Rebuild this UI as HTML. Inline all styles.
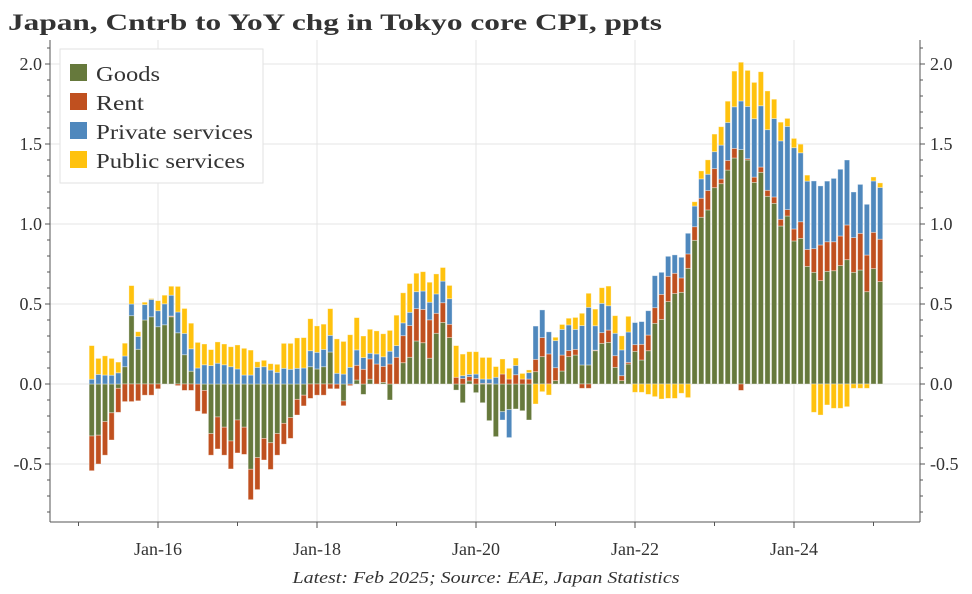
<!DOCTYPE html>
<html><head><meta charset="utf-8"><style>
body{margin:0;background:#fff;}
svg text{font-family:"Liberation Serif","DejaVu Serif",serif;}
</style></head><body>
<svg id="chart" width="972" height="589" viewBox="0 0 972 589" xmlns="http://www.w3.org/2000/svg">
<rect width="972" height="589" fill="#fff"/>
<text x="8" y="30" font-size="23" font-weight="bold" fill="#333" textLength="654" lengthAdjust="spacingAndGlyphs">Japan, Cntrb to YoY chg in Tokyo core CPI, ppts</text>
<g id="grid"></g>
<g id="bars"></g>
<g id="axes"></g>
<g>
<rect x="60" y="49" width="203" height="134" fill="#fff" stroke="#e2e2e2"/>
<rect x="70" y="64" width="17" height="17" fill="#66793c"/>
<text x="96" y="81" font-size="21" fill="#333" textLength="64" lengthAdjust="spacingAndGlyphs">Goods</text>
<rect x="70" y="93" width="17" height="17" fill="#c0501f"/>
<text x="96" y="110" font-size="21" fill="#333" textLength="48" lengthAdjust="spacingAndGlyphs">Rent</text>
<rect x="70" y="122" width="17" height="17" fill="#4f88bd"/>
<text x="96" y="139" font-size="21" fill="#333" textLength="157" lengthAdjust="spacingAndGlyphs">Private services</text>
<rect x="70" y="151" width="17" height="17" fill="#ffc20e"/>
<text x="96" y="168" font-size="21" fill="#333" textLength="149" lengthAdjust="spacingAndGlyphs">Public services</text>
</g>
<text x="486" y="583" font-size="17" font-style="italic" text-anchor="middle" fill="#333" textLength="387" lengthAdjust="spacingAndGlyphs">Latest: Feb 2025; Source: EAE, Japan Statistics</text>
</svg>
<script>
const startYear = 2015, startMonth = 3;
const goods = [-0.325,-0.32,-0.235,-0.18,-0.027,0.108,0.427,0.217,0.40,0.42,0.358,0.37,0.42,0.32,0.183,0.08,0,-0.04,-0.31,-0.206,-0.27,-0.356,-0.225,-0.27,-0.533,-0.46,-0.34,-0.367,-0.31,-0.246,-0.21,-0.096,-0.07,0.108,0.094,0.108,0.2,0,-0.106,0,0.025,-0.065,0.03,0,0.01,-0.1,0,0.133,0.167,0.269,0.258,0.161,0.317,0.385,0.29,-0.038,-0.117,0.019,-0.054,-0.117,-0.229,-0.329,-0.173,-0.16,-0.156,-0.167,-0.225,0.077,0.171,0,0.021,0.081,0.171,0.181,0.119,0.119,0.208,0.254,0.26,0.104,0.021,0.125,0.204,0.15,0.208,0.379,0.404,0.515,0.565,0.573,0.723,0.898,1.042,1.088,1.227,1.252,1.337,1.4125,1.465,1.4,1.26,1.323,1.173,1.129,0.9875,1.05,0.894,0.91,0.735,0.698,0.646,0.704,0.708,0.74,0.777,0.698,0.7125,0.577,0.721,0.64];
const rent = [-0.217,-0.18,-0.21,-0.17,-0.15,-0.11,-0.11,-0.105,-0.07,-0.07,-0.03,0,0.005,-0.01,-0.04,-0.04,-0.17,-0.146,-0.135,-0.2,-0.175,-0.175,-0.206,-0.17,-0.19,-0.2,-0.135,-0.167,-0.135,-0.13,-0.13,-0.098,-0.067,-0.09,-0.07,-0.07,-0.03,-0.03,-0.03,-0.01,0.092,0.092,0.127,0.125,0.1,0.125,0.167,0.169,0.198,0.202,0.208,0.24,0.125,0.123,0.083,0.042,0.035,0.027,0.035,0.004,0.004,0,0.0625,0.031,0.058,0.031,0.031,0.077,0.119,0.188,0.081,0.1,0.038,0.035,-0.027,-0.027,0.004,0.067,0.077,0.073,0.031,0.01,0.042,0.098,0.098,0.098,0.156,0.158,0.127,0.09,0.09,0.085,0.119,0.121,0.119,0.029,0.06,0.06,-0.04,0.008,0.033,0.033,0.0375,0.04,0.042,0.04,0.075,0.104,0.106,0.148,0.223,0.185,0.181,0.185,0.217,0.217,0.229,0.229,0.227,0.265];
const priv = [0.03,0.06,0.056,0.055,0.07,0.067,0.073,0.08,0.096,0.108,0.10,0.131,0.13,0.13,0.133,0.14,0.10,0.12,0.115,0.13,0.12,0.108,0.094,0.056,0.056,0.104,0.108,0.087,0.073,0.098,0.092,0.098,0.1,0.10,0.104,0.108,0.104,0.067,0.062,0.104,0.096,0.073,0.035,0.063,0.06,0.08,0.073,0.08,0.083,0.106,0.115,0.11,0.121,0.135,0.16,0,0.017,0.014,0.027,0.027,0.027,0.042,-0.052,-0.175,0.058,0,0.04,0.208,0.173,0.138,0.169,0.16,0.16,0.125,0.246,0.36,0.152,0.183,0.152,0.14,0.161,0.19,0.138,0.142,0.152,0.2,0.138,0.125,0.115,0.129,0.129,0.129,0.121,0.102,0.106,0.212,0.2375,0.26,0.304,0.327,0.365,0.383,0.379,0.49,0.49,0.52,0.508,0.431,0.427,0.423,0.369,0.379,0.396,0.417,0.406,0.285,0.306,0.317,0.321,0.323];
const pub = [0.21,0.10,0.12,0.105,0.067,0.08,0.115,0.03,0.015,0.006,0.063,0.054,0.056,0.16,0.156,0.16,0.16,0.13,0.10,0.133,0.13,0.125,0.15,0.167,0.156,0.035,0.04,0.04,0.05,0.156,0.162,0.19,0.19,0.20,0.165,0.158,0.167,0.215,0.204,0.204,0.202,0.135,0.15,0.144,0.144,0.13,0.19,0.188,0.18,0.115,0.121,0.125,0.125,0.085,0.083,0.198,0.135,0.142,0.14,0.135,0.135,0.067,0.094,0.067,0.046,0.035,0.017,-0.125,-0.048,-0.069,0.021,0.031,0.042,0.075,0.077,0.088,0.104,0.098,0.123,0.11,0.088,0.098,-0.052,-0.052,-0.065,-0.079,-0.094,-0.09,-0.09,-0.058,-0.085,0.027,0.05,0.09,0.11,0.115,0.133,0.223,0.242,0.225,0.227,0.2125,0.242,0.121,0.117,0.05,0.058,0.054,0.0375,-0.177,-0.194,-0.131,-0.152,-0.152,-0.142,-0.027,-0.027,-0.027,0.025,0.029];
const yTicks = [-0.5,0,0.5,1.0,1.5,2.0];
const yTickLabels = ["-0.5","0.0","0.5","1.0","1.5","2.0"];
const xTickYears = [2016,2018,2020,2022,2024];
const xTickLabels = ["Jan-16","Jan-18","Jan-20","Jan-22","Jan-24"];

const NS="http://www.w3.org/2000/svg";
const L=50,R=920,T=40,B=522;
function y(v){return 384 - v*160;}
function x(monthIndexFromJan2016){return 158 + monthIndexFromJan2016*6.625;}
function xOfBar(i){return x((startYear-2016)*12 + (startMonth-1) + i);}
function mk(tag,attrs,parent){const e=document.createElementNS(NS,tag);for(const k in attrs)e.setAttribute(k,attrs[k]);parent.appendChild(e);return e;}
const grid=document.getElementById('grid'),bars=document.getElementById('bars'),axes=document.getElementById('axes');
yTicks.forEach((v,i)=>{
  const g=mk('line',{x1:L,x2:R,y1:y(v),y2:y(v),stroke:'#e4e4e4','stroke-width':1},grid);
  
  
  const t1=mk('text',{x:42,y:y(v)+6,'font-size':18,'text-anchor':'end',fill:'#333'},axes);t1.textContent=yTickLabels[i];
  
  
  const t2=mk('text',{x:930,y:y(v)+6,'font-size':18,'text-anchor':'start',fill:'#333'},axes);t2.textContent=yTickLabels[i];
  
  
});
for(let k=-8;k<=21;k++){const v=k/10;const len=(k%5===0)?5:3;
  mk('line',{x1:L-len,x2:L,y1:y(v),y2:y(v),stroke:'#555'},axes);
  mk('line',{x1:R,x2:R+len,y1:y(v),y2:y(v),stroke:'#555'},axes);}
xTickYears.forEach((yr,i)=>{
  const xx=x((yr-2016)*12);
  const g=mk('line',{x1:xx,x2:xx,y1:T,y2:B,stroke:'#e4e4e4'},grid);
  
  
  const t=mk('text',{x:xx,y:555,'font-size':18,'text-anchor':'middle',fill:'#333'},axes);t.textContent=xTickLabels[i];
  
  
});
for(let yr=2015;yr<=2025;yr++){const xx=x((yr-2016)*12);if(xx<L||xx>R)continue;
  mk('line',{x1:xx,x2:xx,y1:B,y2:B+((yr%2===0)?6:4),stroke:'#555'},axes);}
mk('line',{x1:L,x2:L,y1:T,y2:B,stroke:'#555'},axes);
mk('line',{x1:R,x2:R,y1:T,y2:B,stroke:'#555'},axes);
mk('line',{x1:L,x2:R,y1:B,y2:B,stroke:'#555'},axes);
const series=[[goods,'#66793c','goods'],[rent,'#c0501f','rent'],[priv,'#4f88bd','private-services'],[pub,'#ffc20e','public-services']];
for(let i=0;i<goods.length;i++){
  let pos=0,neg=0;const cx=xOfBar(i);
  series.forEach(([arr,col,nm])=>{
    const v=arr[i];if(v===0)return;
    let y0,y1;
    if(v>0){y0=y(pos+v);y1=y(pos);pos+=v;}else{y0=y(neg);y1=y(neg+v);neg+=v;}
    const r=mk('rect',{x:cx-2.6,y:y0,width:5.2,height:Math.max(0.5,y1-y0),fill:col,stroke:'rgba(255,255,255,0.45)','stroke-width':0.8},bars);
    
    
  });
}
</script>
</body></html>
